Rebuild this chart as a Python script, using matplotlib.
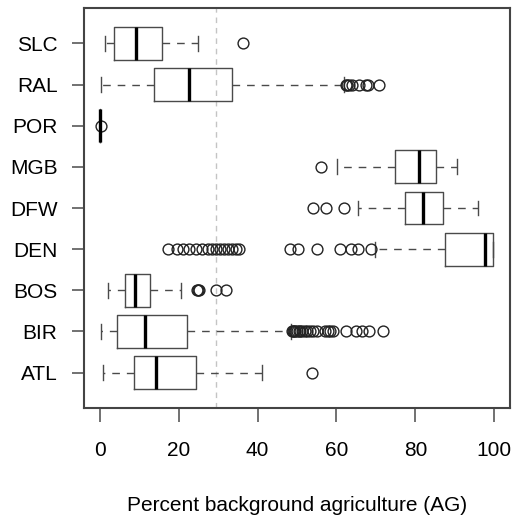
import matplotlib
matplotlib.use("Agg")
import matplotlib.pyplot as plt

plt.rcParams["font.family"] = ["Liberation Sans", "DejaVu Sans"]

# sites, bottom to top
sites = ["ATL", "BIR", "BOS", "DEN", "DFW", "MGB", "POR", "RAL", "SLC"]

# five-number summaries per site (percent AG)
whislo = [0.8, 0.2, 2.1, 69.9, 65.4, 60.1, 0.0, 0.2, 1.3]
q1 = [8.6, 4.4, 6.5, 87.6, 77.5, 74.9, 0.0, 13.8, 3.5]
med = [14.3, 11.4, 8.9, 97.7, 81.9, 81.0, 0.0, 22.6, 9.3]
q3 = [24.5, 22.1, 12.7, 99.6, 86.9, 85.2, 0.0, 33.4, 15.9]
whishi = [41.2, 48.4, 20.5, 99.6, 95.8, 90.5, 0.0, 61.9, 24.9]

# outlying observations per site
fliers = [
    [53.8],
    [48.8, 49.0, 49.3, 49.6, 50.0, 50.4, 50.8, 51.3, 52.0, 52.6, 53.2,
     54.0, 55.0, 57.2, 57.8, 58.4, 59.0, 62.5, 65.0, 66.5, 68.3, 71.7],
    [24.6, 24.9, 25.2, 29.5, 32.1],
    [17.2, 19.5, 21.0, 22.5, 24.5, 26.0, 27.5, 28.5, 29.5, 30.5, 31.5,
     32.5, 33.5, 34.5, 35.2, 48.1, 50.2, 55.0, 60.9, 63.7, 65.4, 68.8],
    [54.0, 57.4, 62.0],
    [56.1],
    [0.4],
    [62.4, 62.8, 63.3, 64.0, 65.8, 67.5, 68.1, 70.9],
    [36.2],
]

ag_cutoff = 29.4

stats = []
for i, name in enumerate(sites):
    stats.append(dict(label=name, whislo=whislo[i], q1=q1[i], med=med[i],
                      q3=q3[i], whishi=whishi[i], fliers=fliers[i]))

fig = plt.figure(figsize=(5.14, 5.17), dpi=100)
ax = fig.add_axes([84 / 514, 109 / 517, 426 / 514, 400 / 517])

ax.axvline(ag_cutoff, color="#c4c4c4", linestyle=(0, (4, 3.5)), linewidth=1, zorder=0)

line_col = "#4a4a4a"
ax.bxp(
    stats,
    positions=range(1, len(sites) + 1),
    orientation="horizontal",
    widths=0.8,
    capwidths=0.36,
    boxprops=dict(color=line_col, linewidth=1.0),
    whiskerprops=dict(color=line_col, linewidth=1.0, linestyle=(0, (5.5, 5))),
    capprops=dict(color=line_col, linewidth=1.0),
    medianprops=dict(color="black", linewidth=2.4),
    flierprops=dict(marker="o", markerfacecolor="none", markeredgecolor="#222222",
                    markersize=7.8, markeredgewidth=1.0),
)

ax.set_xlim(-4, 104)
ax.set_ylim(0.14, 9.86)
ax.set_xticks([0, 20, 40, 60, 80, 100])
ax.set_yticks(range(1, len(sites) + 1))
ax.set_yticklabels(sites)
ax.tick_params(axis="x", length=10, width=1.1, color=line_col, pad=14, labelsize=15)
ax.tick_params(axis="y", length=9, width=1.1, color=line_col, pad=10, labelsize=15)
for s in ax.spines.values():
    s.set_color("#444444")
    s.set_linewidth(1.5)

ax.set_xlabel("Percent background agriculture (AG)", fontsize=15)
ax.xaxis.set_label_coords(0.5, -0.22)

fig.savefig("out.png", dpi=100)
